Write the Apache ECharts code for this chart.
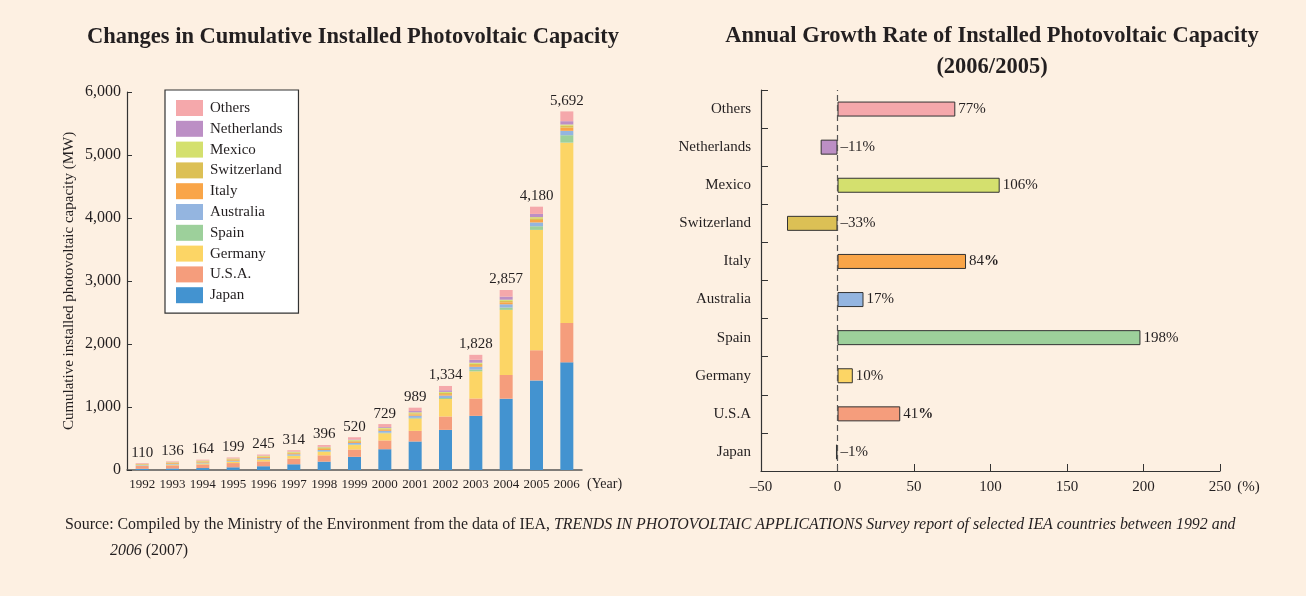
<!DOCTYPE html>
<html>
<head>
<meta charset="utf-8">
<script src="https://cdn.jsdelivr.net/npm/echarts@6/dist/echarts.min.js"></script>
<style>
  html, body { margin: 0; padding: 0; background: #fdf0e2; }
  #main { width: 1306px; height: 596px; }
</style>
</head>
<body>
<div id="main"></div>
<script>
// 年份与累计总量
const years = ['1992','1993','1994','1995','1996','1997','1998','1999','2000','2001','2002','2003','2004','2005','2006'];
const totals = [110, 136, 164, 199, 245, 314, 396, 520, 729, 989, 1334, 1828, 2857, 4180, 5692];

// 各国累计装机 (MW)
const japan = [19, 24, 31, 43, 60, 91, 133, 209, 330, 453, 637, 860, 1132, 1422, 1709];
const usa = [44, 50, 58, 67, 77, 89, 100, 117, 139, 168, 212, 275, 376, 479, 624];
const germany = [6, 9, 12, 18, 28, 42, 54, 70, 114, 195, 278, 431, 1034, 1910, 2863];
const spain = [4, 5, 6, 7, 7, 8, 9, 9, 10, 12, 16, 27, 37, 58, 118];
const australia = [7, 9, 11, 13, 16, 19, 22, 25, 29, 34, 39, 46, 52, 61, 70];
const italy = [8, 12, 14, 16, 16, 17, 18, 18, 19, 20, 22, 26, 31, 38, 50];
const switzerland = [5, 6, 7, 8, 10, 11, 13, 15, 15, 18, 20, 21, 23, 27, 30];
const mexico = [5, 7, 9, 10, 11, 12, 13, 12, 14, 15, 16, 17, 18, 19, 20];
const netherlands = [1, 2, 2, 2, 3, 4, 6, 9, 13, 21, 26, 46, 49, 51, 53];
const others = [11, 12, 14, 15, 17, 21, 28, 36, 46, 53, 68, 79, 105, 115, 155];

// 增长率 (2006/2005)
const rateCountries = ['Japan', 'U.S.A', 'Germany', 'Spain', 'Australia', 'Italy', 'Switzerland', 'Mexico', 'Netherlands', 'Others'];
const rates = [-1, 41, 10, 198, 17, 84, -33, 106, -11, 77];

const yTicks = [0, 1000, 2000, 3000, 4000, 5000, 6000];
const xRateTicks = [-50, 0, 50, 100, 150, 200, 250];

const font = 'Liberation Serif, Times New Roman, serif';
const ink = '#231f20';

const colors = {
  'Japan': '#4393d0',
  'U.S.A.': '#f59d7c',
  'Germany': '#fcd565',
  'Spain': '#9dd09b',
  'Australia': '#94b5e0',
  'Italy': '#f9a548',
  'Switzerland': '#dcc055',
  'Mexico': '#d4e06e',
  'Netherlands': '#bc8fc5',
  'Others': '#f5a8ab'
};
const rateColors = ['#4393d0', '#f59d7c', '#fcd565', '#9dd09b', '#94b5e0', '#f9a548', '#dcc055', '#d4e06e', '#bc8fc5', '#f5a8ab'];

const stackList = [
  ['Japan', japan], ['U.S.A.', usa], ['Germany', germany], ['Spain', spain],
  ['Australia', australia], ['Italy', italy], ['Switzerland', switzerland],
  ['Mexico', mexico], ['Netherlands', netherlands], ['Others', others]
];

function fmtNum(v) {
  return String(v).replace(/\B(?=(\d{3})+(?!\d))/g, ',');
}
function dash(s) {
  return String(s).replace('-', '\u2013');
}

const stackSeries = stackList.map(function (item, i) {
  const s = {
    name: item[0],
    type: 'bar',
    stack: 'total',
    xAxisIndex: 0,
    yAxisIndex: 0,
    barWidth: 13,
    itemStyle: { color: colors[item[0]] },
    data: item[1]
  };
  if (i === stackList.length - 1) {
    s.label = {
      show: true,
      position: 'top',
      distance: 3,
      fontFamily: font,
      fontSize: 15,
      color: ink,
      formatter: function (p) { return fmtNum(totals[p.dataIndex]); }
    };
  }
  return s;
});

const boldPct = { 'Italy': true, 'U.S.A': true };

const chart = echarts.init(document.getElementById('main'));
chart.setOption({
  backgroundColor: '#fdf0e2',
  animation: false,
  textStyle: { fontFamily: font, color: ink },
  title: [
    {
      text: 'Changes in Cumulative Installed Photovoltaic Capacity',
      left: 348, top: 21, textAlign: 'center',
      textStyle: { fontFamily: font, fontSize: 22.5, fontWeight: 'bold', color: ink }
    },
    {
      text: 'Annual Growth Rate of Installed Photovoltaic Capacity\n(2006/2005)',
      left: 987, top: 16, textAlign: 'center',
      textStyle: { fontFamily: font, fontSize: 22.5, fontWeight: 'bold', color: ink, lineHeight: 31 }
    }
  ],
  legend: {
    orient: 'vertical',
    left: 165, top: 90,
    width: 112,
    padding: [10, 16, 10, 11],
    itemWidth: 27, itemHeight: 16, itemGap: 4.8,
    backgroundColor: '#ffffff',
    borderColor: '#333',
    borderWidth: 1.2,
    icon: 'rect',
    textStyle: { fontFamily: font, fontSize: 15, color: ink, padding: [0, 0, 0, 2] },
    data: ['Others', 'Netherlands', 'Mexico', 'Switzerland', 'Italy', 'Australia', 'Spain', 'Germany', 'U.S.A.', 'Japan']
  },
  grid: [
    { left: 127, width: 455, top: 92, bottom: 126 },
    { left: 761, width: 459, top: 90, bottom: 125 }
  ],
  xAxis: [
    {
      type: 'category',
      gridIndex: 0,
      data: years,
      name: '(Year)',
      nameLocation: 'end',
      nameGap: 5,
      nameTextStyle: { fontFamily: font, fontSize: 14, color: ink, verticalAlign: 'top', padding: [7, 0, 0, 0] },
      axisLine: { lineStyle: { color: '#555', width: 1.5 } },
      axisTick: { inside: true, length: 6, lineStyle: { color: '#333' } },
      axisLabel: { interval: 0, fontFamily: font, fontSize: 13, color: ink, margin: 8 }
    },
    {
      type: 'value',
      gridIndex: 1,
      min: -50, max: 250, interval: 50,
      name: '(%)',
      nameLocation: 'end',
      nameGap: 8,
      nameTextStyle: { fontFamily: font, fontSize: 15, color: ink, verticalAlign: 'top', padding: [9, 0, 0, 0] },
      axisLine: { show: true, onZero: false, lineStyle: { color: '#333', width: 1.2 } },
      axisTick: { show: true, inside: true, length: 7, lineStyle: { color: '#333' } },
      splitLine: { show: false },
      axisLabel: {
        fontFamily: font, fontSize: 15, color: ink, margin: 9,
        formatter: function (v) { return xRateTicks.indexOf(v) >= 0 ? dash(v) : ''; }
      }
    }
  ],
  yAxis: [
    {
      type: 'value',
      gridIndex: 0,
      min: 0, max: 6000, interval: 1000,
      name: 'Cumulative installed photovoltaic capacity (MW)',
      nameLocation: 'middle',
      nameGap: 50,
      nameTextStyle: { fontFamily: font, fontSize: 15, color: ink },
      axisLine: { show: true, lineStyle: { color: '#333', width: 1.2 } },
      axisTick: { show: true, inside: true, length: 5, lineStyle: { color: '#333' } },
      splitLine: { show: false },
      axisLabel: {
        fontFamily: font, fontSize: 16, color: ink, margin: 6,
        formatter: function (v) { return yTicks.indexOf(v) >= 0 ? fmtNum(v) : ''; }
      }
    },
    {
      type: 'category',
      gridIndex: 1,
      data: rateCountries,
      axisLine: { show: true, onZero: false, lineStyle: { color: '#333', width: 1.2 } },
      axisTick: { show: true, inside: true, length: 7, lineStyle: { color: '#333' } },
      axisLabel: { fontFamily: font, fontSize: 15, color: ink, margin: 10 }
    }
  ],
  series: stackSeries.concat([
    {
      name: 'rate',
      type: 'bar',
      xAxisIndex: 1,
      yAxisIndex: 1,
      barWidth: 15,
      data: rates.map(function (v, i) {
        return { value: v, itemStyle: { color: rateColors[i] } };
      }),
      itemStyle: { borderColor: '#333', borderWidth: 1 },
      label: {
        show: true,
        position: 'right',
        distance: 3,
        fontFamily: font,
        fontSize: 15,
        color: ink,
        formatter: function (p) {
          const t = dash(p.value);
          return boldPct[p.name] ? t + '{b|%}' : t + '%';
        },
        rich: { b: { fontFamily: font, fontSize: 15, fontWeight: 'bold', color: ink } }
      },
      markLine: {
        silent: true,
        symbol: 'none',
        label: { show: false },
        lineStyle: { type: [6, 4], color: '#555', width: 1.2 },
        data: [{ xAxis: 0 }]
      }
    }
  ]),
  graphic: [
    {
      type: 'text',
      left: 65, top: 517,
      style: {
        text: 'Source: Compiled by the Ministry of the Environment from the data of IEA, {i|TRENDS IN PHOTOVOLTAIC APPLICATIONS Survey report of selected IEA countries between 1992 and}',
        fontFamily: font, fontSize: 15.9, fill: ink,
        rich: { i: { fontFamily: font, fontSize: 15.9, fontStyle: 'italic', fill: ink } }
      }
    },
    {
      type: 'text',
      left: 110, top: 543,
      style: {
        text: '{i|2006} (2007)',
        fontFamily: font, fontSize: 15.9, fill: ink,
        rich: { i: { fontFamily: font, fontSize: 15.9, fontStyle: 'italic', fill: ink } }
      }
    }
  ]
});
</script>
</body>
</html>
